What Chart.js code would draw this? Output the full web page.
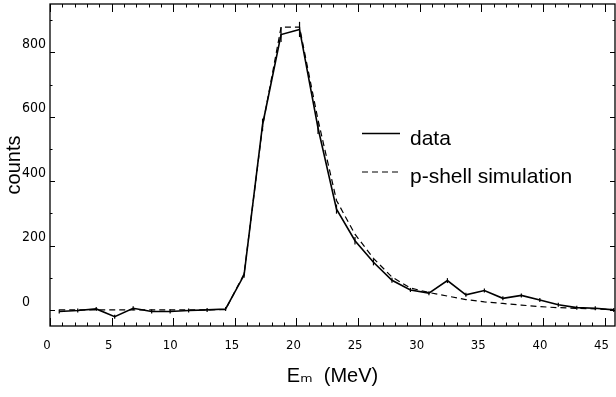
<!DOCTYPE html>
<html>
<head>
<meta charset="utf-8">
<script src="https://cdn.jsdelivr.net/npm/chart.js@4.4.1/dist/chart.umd.min.js"></script>
<style>
  html, body { margin: 0; padding: 0; background: #fff; }
  #wrap { width: 616px; height: 397px; }
</style>
</head>
<body>
<div id="wrap"><canvas id="c" width="616" height="397"></canvas></div>
<script>
// ---- data ----
const energies = [0.75, 2.25, 3.75, 5.25, 6.75, 8.25, 9.75, 11.25, 12.75, 14.25,
                  15.75, 17.25, 18.75, 20.25, 21.75, 23.25, 24.75, 26.25, 27.75, 29.25,
                  30.75, 32.25, 33.75, 35.25, 36.75, 38.25, 39.75, 41.25, 42.75, 44.25, 45.75];
const dataCounts = [-5, -2, 3, -21, 5, -5, -5, -2, 0, 3,
                    108, 575, 855, 871, 565, 313, 215, 148, 92, 62,
                    52, 91, 47, 60, 36, 45, 31, 16, 7, 5, 0];
const simCounts = [0, 0, 0, 0, 0, 0, 0, 0, 0, 1,
                   112, 570, 878, 878, 590, 340, 235, 160, 102, 68,
                   54, 43, 32, 25, 20, 15, 10, 7, 5, 3, 1];
const xTickValues = [0, 5, 10, 15, 20, 25, 30, 35, 40, 45];
const yTickValues = [0, 200, 400, 600, 800];
const seriesLabels = ['data', 'p-shell simulation'];
const xTitle = 'E\u2098  (MeV)';
const yTitle = 'counts';

const tickFont = "'Liberation Sans Narrow', 'DejaVu Sans Condensed', 'Liberation Sans', sans-serif";
const textFont = "'Liberation Sans', 'DejaVu Sans', sans-serif";

function pts(ys) { return energies.map((e, i) => ({ x: e, y: ys[i] })); }

const bgPlugin = {
  id: 'bg',
  beforeDraw(chart) {
    const ctx = chart.ctx;
    ctx.save();
    ctx.fillStyle = '#fff';
    ctx.fillRect(0, 0, chart.width, chart.height);
    ctx.restore();
  }
};

// Frame with inward ticks on all four sides
const framePlugin = {
  id: 'frame',
  afterDraw(chart) {
    const { ctx, chartArea: a, scales } = chart;
    const xs = scales.x, ys = scales.y;
    ctx.save();
    ctx.strokeStyle = '#000';
    ctx.lineWidth = 1.3;
    ctx.strokeRect(a.left, a.top, a.right - a.left, a.bottom - a.top);
    ctx.lineWidth = 1;
    ctx.beginPath();
    for (let v = Math.ceil(xs.min); v <= xs.max; v += 1) {
      const px = Math.round(xs.getPixelForValue(v)) + 0.5;
      const len = (v % 5 === 0) ? 8 : 3.5;
      ctx.moveTo(px, a.bottom); ctx.lineTo(px, a.bottom - len);
      ctx.moveTo(px, a.top); ctx.lineTo(px, a.top + len);
    }
    for (let v = Math.ceil(ys.min / 100) * 100; v <= ys.max; v += 100) {
      const py = Math.round(ys.getPixelForValue(v)) + 0.5;
      const len = (v % 200 === 0) ? 5 : 2.5;
      ctx.moveTo(a.left, py); ctx.lineTo(a.left + len, py);
      ctx.moveTo(a.right, py); ctx.lineTo(a.right - len, py);
    }
    ctx.stroke();
    ctx.restore();
  }
};

// Legend drawn inside the plot area from the dataset labels
const legendPlugin = {
  id: 'inLegend',
  afterDraw(chart) {
    const ctx = chart.ctx;
    const rows = [{ y: 133.5 }, { y: 172 }];
    ctx.save();
    chart.data.datasets.forEach((ds, i) => {
      const y = rows[i].y;
      ctx.strokeStyle = '#000';
      ctx.lineWidth = ds.borderWidth;
      ctx.setLineDash(ds.borderDash || []);
      ctx.beginPath();
      ctx.moveTo(362, y); ctx.lineTo(400, y);
      ctx.stroke();
      ctx.setLineDash([]);
      ctx.fillStyle = '#000';
      ctx.font = '21px ' + textFont;
      ctx.textBaseline = 'alphabetic';
      ctx.textAlign = 'left';
      ctx.fillText(ds.label, 410, y + 11);
    });
    ctx.restore();
  }
};

new Chart(document.getElementById('c'), {
  type: 'line',
  data: {
    datasets: [
      {
        label: seriesLabels[0],
        data: pts(dataCounts),
        borderColor: '#000',
        borderWidth: 1.6,
        pointStyle: 'line',
        rotation: 90,
        pointBorderWidth: 1.2,
        pointBorderColor: '#000',
        radius: (c) => {
          const v = c.raw ? c.raw.y : 0;
          const ys = c.chart.scales.y;
          if (!ys) return 2;
          const e = Math.sqrt(Math.max(Math.abs(v), 4));
          return Math.max(2, (ys.getPixelForValue(0) - ys.getPixelForValue(e)) * 0.8);
        },
        tension: 0
      },
      {
        label: seriesLabels[1],
        data: pts(simCounts),
        borderColor: '#000',
        borderWidth: 1.2,
        borderDash: [6, 4],
        pointRadius: 0,
        tension: 0
      }
    ]
  },
  options: {
    responsive: false,
    animation: false,
    events: [],
    layout: { padding: { left: 22, top: 4, right: 1, bottom: 0 } },
    plugins: { legend: { display: false }, tooltip: { enabled: false } },
    scales: {
      x: {
        type: 'linear',
        min: 0,
        max: 45.85,
        afterFit: (s) => { s.height = 71; s.paddingLeft = 0; s.paddingRight = 0; },
        afterBuildTicks: (s) => { s.ticks = xTickValues.map(v => ({ value: v })); },
        grid: { display: false, drawTicks: false },
        border: { display: false },
        ticks: {
          color: '#000',
          padding: 12,
          labelOffset: -3,
          maxRotation: 0,
          autoSkip: false,
          font: { family: tickFont, size: 13 }
        },
        title: {
          display: true,
          text: xTitle,
          color: '#000',
          font: { family: textFont, size: 20 },
          padding: { top: 0, bottom: 9 }
        }
      },
      y: {
        type: 'linear',
        min: -50,
        max: 950,
        afterFit: (s) => { s.width = 28; s.paddingTop = 0; s.paddingBottom = 0; },
        afterBuildTicks: (s) => { s.ticks = yTickValues.map(v => ({ value: v })); },
        grid: { display: false, drawTicks: false },
        border: { display: false },
        ticks: {
          color: '#000',
          crossAlign: 'far',
          labelOffset: -8,
          font: { family: tickFont, size: 14 }
        },
        title: {
          display: true,
          text: yTitle,
          color: '#000',
          font: { family: textFont, size: 20 },
          padding: { top: -20, bottom: 0 }
        }
      }
    }
  },
  plugins: [bgPlugin, framePlugin, legendPlugin]
});
</script>
</body>
</html>
